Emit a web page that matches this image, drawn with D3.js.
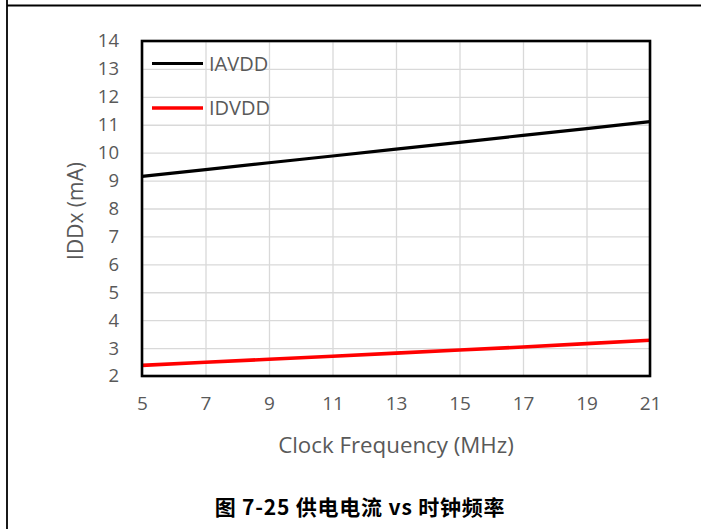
<!DOCTYPE html>
<html>
<head>
<meta charset="utf-8">
<script src="https://cdn.jsdelivr.net/npm/d3@7"></script>
<style>
  html, body { margin: 0; padding: 0; background: #fff; }
  svg { display: block; }
</style>
</head>
<body>
<svg id="chart" width="701" height="529"></svg>
<script>
const freqs = [5, 7, 9, 11, 13, 15, 17, 19, 21];
const iavdd = [9.15, 9.39, 9.64, 9.88, 10.13, 10.37, 10.62, 10.86, 11.11];
const idvdd = [2.38, 2.49, 2.60, 2.71, 2.82, 2.93, 3.04, 3.16, 3.28];
const seriesNames = ["IAVDD", "IDVDD"];
const seriesColors = ["#000000", "#ff0000"];
const xTicks = [5, 7, 9, 11, 13, 15, 17, 19, 21];
const yTicks = [2, 3, 4, 5, 6, 7, 8, 9, 10, 11, 12, 13, 14];
const xTitle = "Clock Frequency (MHz)";
const yTitle = "IDDx (mA)";
const caption = "图 7-25 供电电流 vs 时钟频率";

const svg = d3.select("#chart");
const W = 701, H = 529;
const plot = { left: 142, right: 650, top: 41, bottom: 376 };
const font = "'Open Sans', 'Liberation Sans', sans-serif";
const grey = "#595959";

// frame lines
svg.append("line").attr("x1", 7).attr("x2", 7).attr("y1", 0).attr("y2", H)
  .attr("stroke", "#000").attr("stroke-width", 1.8);
svg.append("line").attr("x1", 7).attr("x2", W).attr("y1", 5.5).attr("y2", 5.5)
  .attr("stroke", "#000").attr("stroke-width", 1.8);

const x = d3.scaleLinear().domain([5, 21]).range([plot.left, plot.right]);
const y = d3.scaleLinear().domain([2, 14]).range([plot.bottom, plot.top]);

// gridlines
const gx = svg.append("g").attr("transform", `translate(0,${plot.bottom})`)
  .call(d3.axisBottom(x).tickValues(xTicks).tickSize(-(plot.bottom - plot.top)).tickFormat(""));
gx.select(".domain").remove();
gx.selectAll("line").attr("stroke", "#d9d9d9").attr("stroke-width", 1.3);

const gy = svg.append("g").attr("transform", `translate(${plot.left},0)`)
  .call(d3.axisLeft(y).tickValues(yTicks).tickSize(-(plot.right - plot.left)).tickFormat(""));
gy.select(".domain").remove();
gy.selectAll("line").attr("stroke", "#d9d9d9").attr("stroke-width", 1.3);

// tick labels
const xa = svg.append("g").attr("transform", `translate(0,${plot.bottom})`)
  .call(d3.axisBottom(x).tickValues(xTicks).tickSize(0).tickPadding(21).tickFormat(d3.format("d")));
xa.select(".domain").remove();
xa.selectAll("text").attr("font-family", font).attr("font-size", 19).attr("fill", grey);

const ya = svg.append("g").attr("transform", `translate(${plot.left},0)`)
  .call(d3.axisLeft(y).tickValues(yTicks).tickSize(0).tickPadding(23).tickFormat(d3.format("d")));
ya.select(".domain").remove();
ya.selectAll("text").attr("font-family", font).attr("font-size", 18.5).attr("fill", grey);

// series
const line = d3.line().x((d, i) => x(freqs[i])).y(d => y(d));
[iavdd, idvdd].forEach((vals, k) => {
  svg.append("path").datum(vals).attr("d", line)
    .attr("fill", "none").attr("stroke", seriesColors[k])
    .attr("stroke-width", k === 0 ? 3.2 : 3.6).attr("stroke-linecap", "butt");
});

// plot border
svg.append("rect").attr("x", plot.left).attr("y", plot.top)
  .attr("width", plot.right - plot.left).attr("height", plot.bottom - plot.top)
  .attr("fill", "none").attr("stroke", "#000").attr("stroke-width", 2.6);

// legend
const legY = [63.5, 108];
seriesNames.forEach((name, k) => {
  svg.append("line").attr("x1", 152).attr("x2", 203).attr("y1", legY[k]).attr("y2", legY[k])
    .attr("stroke", seriesColors[k]).attr("stroke-width", k === 0 ? 3.2 : 3.6);
  svg.append("text").attr("x", 209).attr("y", legY[k]).attr("dy", "0.36em")
    .attr("font-family", font).attr("font-size", 20).attr("fill", grey).text(name);
});

// axis titles
svg.append("text").attr("x", (plot.left + plot.right) / 2).attr("y", 445).attr("dy", "0.36em")
  .attr("text-anchor", "middle").attr("font-family", font).attr("font-size", 22.3)
  .attr("fill", grey).text(xTitle);
svg.append("text").attr("transform", "translate(75,211) rotate(-90)").attr("dy", "0.36em")
  .attr("text-anchor", "middle").attr("font-family", font).attr("font-size", 21)
  .attr("fill", grey).text(yTitle);

// caption
svg.append("text").attr("x", 360).attr("y", 507).attr("dy", "0.36em")
  .attr("text-anchor", "middle").attr("font-family", "'Noto Sans CJK SC', sans-serif")
  .attr("font-weight", "bold").attr("font-size", 21).attr("letter-spacing", 0.8)
  .attr("fill", "#000").text(caption);
</script>
</body>
</html>
